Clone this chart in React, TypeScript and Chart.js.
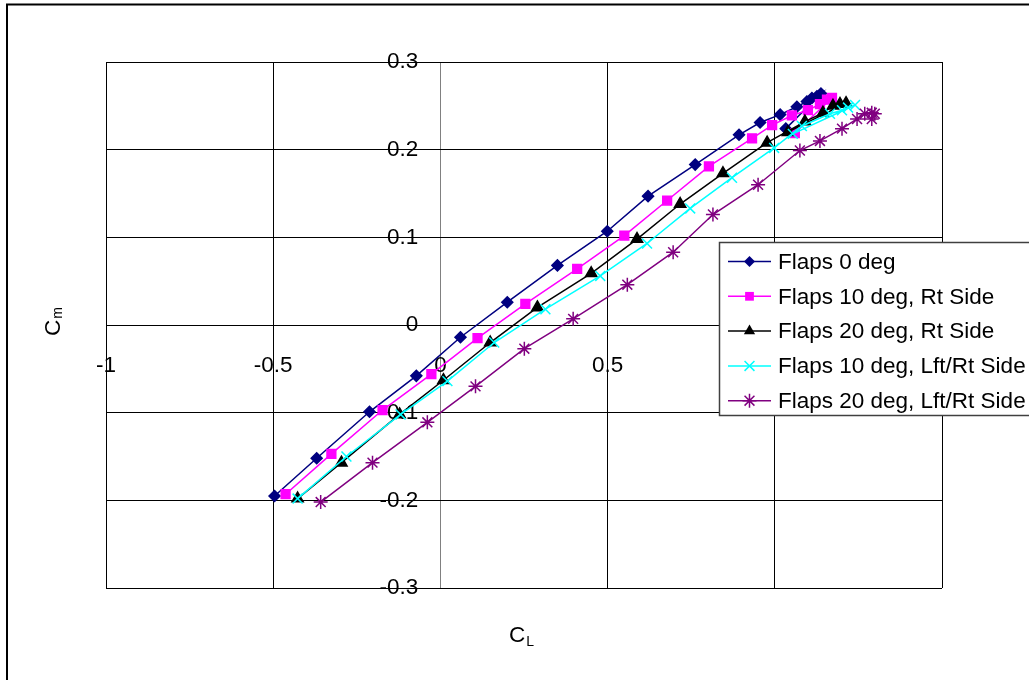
import React, { useEffect, useRef } from 'react';
import { Chart, registerables } from 'chart.js';

Chart.register(...registerables);

const FONT = '"Liberation Sans", Arial, Helvetica, sans-serif';

// ---- data ----
const seriesNames = [
  'Flaps 0 deg',
  'Flaps 10 deg, Rt Side',
  'Flaps 20 deg, Rt Side',
  'Flaps 10 deg, Lft/Rt Side',
  'Flaps 20 deg, Lft/Rt Side',
];

const flaps0CL = [-0.496, -0.370, -0.212, -0.072, 0.060, 0.200, 0.350, 0.499, 0.621, 0.762, 0.893, 0.956, 1.016, 1.066, 1.096, 1.111, 1.126, 1.138, 1.033];
const flaps0Cm = [-0.195, -0.152, -0.099, -0.058, -0.014, 0.026, 0.068, 0.107, 0.147, 0.183, 0.217, 0.231, 0.240, 0.249, 0.255, 0.259, 0.261, 0.264, 0.224];

const flaps10RtCL = [-0.463, -0.326, -0.173, -0.027, 0.111, 0.254, 0.409, 0.550, 0.678, 0.803, 0.932, 0.992, 1.051, 1.099, 1.135, 1.156, 1.171, 1.060];
const flaps10RtCm = [-0.193, -0.147, -0.097, -0.056, -0.015, 0.024, 0.064, 0.102, 0.142, 0.181, 0.213, 0.228, 0.239, 0.245, 0.252, 0.257, 0.259, 0.219];

const flaps20RtCL = [-0.427, -0.296, -0.122, 0.009, 0.149, 0.290, 0.451, 0.588, 0.717, 0.845, 0.977, 1.090, 1.144, 1.174, 1.195, 1.213, 1.039];
const flaps20RtCm = [-0.198, -0.157, -0.102, -0.063, -0.020, 0.020, 0.059, 0.098, 0.138, 0.173, 0.208, 0.232, 0.242, 0.250, 0.252, 0.253, 0.220];

const flaps10LRCL = [-0.427, -0.281, -0.119, 0.021, 0.161, 0.314, 0.478, 0.618, 0.747, 0.872, 0.998, 1.081, 1.165, 1.201, 1.219, 1.240, 1.054];
const flaps10LRCm = [-0.198, -0.150, -0.102, -0.064, -0.020, 0.018, 0.056, 0.093, 0.133, 0.168, 0.202, 0.227, 0.241, 0.245, 0.248, 0.251, 0.218];

const flaps20LRCL = [-0.358, -0.203, -0.039, 0.105, 0.251, 0.397, 0.559, 0.696, 0.815, 0.950, 1.075, 1.135, 1.201, 1.246, 1.269, 1.290, 1.299, 1.290];
const flaps20LRCm = [-0.202, -0.157, -0.111, -0.070, -0.027, 0.007, 0.046, 0.083, 0.126, 0.160, 0.199, 0.210, 0.224, 0.235, 0.241, 0.242, 0.241, 0.235];

const xTickValues = [-1, -0.5, 0, 0.5, 1, 1.5];
const yTickValues = [-0.3, -0.2, -0.1, 0, 0.1, 0.2, 0.3];

const seriesX = [flaps0CL, flaps10RtCL, flaps20RtCL, flaps10LRCL, flaps20LRCL];
const seriesY = [flaps0Cm, flaps10RtCm, flaps20RtCm, flaps10LRCm, flaps20LRCm];

// ---- styles ----
const colors = ['#000080', '#FF00FF', '#000000', '#00FFFF', '#800080'];
const pointStyles = ['rectRot', 'rect', 'triangle', 'crossRot', 'star'];
const pointRadii = [5.5, 6.2, 6.5, 7, 7];
const TEXT_SIZE = 22.5;
// y tick labels sit a little left of the vertical axis (in CL units)
const Y_LABEL_ANCHOR = -0.066;

function drawMarker(ctx: CanvasRenderingContext2D, style: string, x: number, y: number, r: number, color: string) {
  ctx.save();
  ctx.fillStyle = color;
  ctx.strokeStyle = color;
  ctx.lineWidth = 1.5;
  ctx.beginPath();
  const q = Math.SQRT1_2 * r;
  if (style === 'rectRot') {
    ctx.moveTo(x - r, y);
    ctx.lineTo(x, y - r);
    ctx.lineTo(x + r, y);
    ctx.lineTo(x, y + r);
    ctx.closePath();
    ctx.fill();
  } else if (style === 'rect') {
    ctx.rect(x - q, y - q, 2 * q, 2 * q);
    ctx.fill();
  } else if (style === 'triangle') {
    let a = 0;
    ctx.moveTo(x + Math.sin(a) * r, y - Math.cos(a) * r);
    a += (2 * Math.PI) / 3;
    ctx.lineTo(x + Math.sin(a) * r, y - Math.cos(a) * r);
    a += (2 * Math.PI) / 3;
    ctx.lineTo(x + Math.sin(a) * r, y - Math.cos(a) * r);
    ctx.closePath();
    ctx.fill();
  } else if (style === 'crossRot' || style === 'star') {
    ctx.moveTo(x - q, y - q);
    ctx.lineTo(x + q, y + q);
    ctx.moveTo(x - q, y + q);
    ctx.lineTo(x + q, y - q);
    if (style === 'star') {
      ctx.moveTo(x, y - r);
      ctx.lineTo(x, y + r);
      ctx.moveTo(x - r, y);
      ctx.lineTo(x + r, y);
    }
    ctx.stroke();
  }
  ctx.restore();
}

function drawSubTitle(ctx: CanvasRenderingContext2D, main: string, sub: string, x: number, y: number, subDrop: number) {
  ctx.font = `${TEXT_SIZE}px ${FONT}`;
  ctx.textAlign = 'left';
  ctx.textBaseline = 'alphabetic';
  ctx.fillStyle = '#000';
  ctx.fillText(main, x, y);
  const w = ctx.measureText(main).width;
  ctx.font = `14px ${FONT}`;
  ctx.fillText(sub, x + w + 1, y + subDrop);
}

const overlayPlugin = {
  id: 'overlay',
  beforeDraw(chart: any) {
    const ctx: CanvasRenderingContext2D = chart.ctx;
    ctx.save();
    ctx.fillStyle = '#ffffff';
    ctx.fillRect(0, 0, chart.width, chart.height);
    ctx.strokeStyle = '#000000';
    ctx.lineWidth = 2;
    ctx.strokeRect(7, 4.5, 2000, 2000);
    ctx.restore();
  },
  afterDraw(chart: any) {
    const ctx: CanvasRenderingContext2D = chart.ctx;
    ctx.save();
    // axis titles
    drawSubTitle(ctx, 'C', 'L', 509, 642, 4);
    ctx.save();
    ctx.translate(60, 336);
    ctx.rotate(-Math.PI / 2);
    drawSubTitle(ctx, 'C', 'm', 0, 0, 2);
    ctx.restore();

    // legend
    const lx = 719.5;
    const ly = 242.5;
    ctx.fillStyle = '#ffffff';
    ctx.fillRect(lx, ly, 400, 173);
    ctx.strokeStyle = '#404040';
    ctx.lineWidth = 1.5;
    ctx.strokeRect(lx, ly, 400, 173);
    chart.data.datasets.forEach((ds: any, i: number) => {
      const cy = 261.5 + i * 34.8;
      ctx.strokeStyle = ds.borderColor;
      ctx.lineWidth = 1.5;
      ctx.beginPath();
      ctx.moveTo(728, cy);
      ctx.lineTo(771, cy);
      ctx.stroke();
      drawMarker(ctx, ds.pointStyle, 749.5, cy, ds.pointRadius, ds.borderColor);
      ctx.fillStyle = '#000';
      ctx.font = `${TEXT_SIZE}px ${FONT}`;
      ctx.textAlign = 'left';
      ctx.textBaseline = 'middle';
      ctx.fillText(ds.label, 778, cy + 1);
    });
    ctx.restore();
  },
};

const fmt = (v: number) => String(Math.round(v * 10) / 10);

export default function App() {
  const canvasRef = useRef<HTMLCanvasElement | null>(null);

  useEffect(() => {
    if (!canvasRef.current) return;
    const datasets = seriesNames.map((name, i) => ({
      label: name,
      data: seriesX[i].map((x, j) => ({ x, y: seriesY[i][j] })),
      showLine: true,
      borderColor: colors[i],
      backgroundColor: colors[i],
      pointBackgroundColor: colors[i],
      pointBorderColor: colors[i],
      borderWidth: 1.5,
      pointBorderWidth: 1.5,
      pointStyle: pointStyles[i],
      pointRadius: pointRadii[i],
      tension: 0,
      order: seriesNames.length - i,
    }));

    const chart = new Chart(canvasRef.current, {
      type: 'scatter',
      data: { datasets },
      options: {
        animation: false,
        responsive: false,
        devicePixelRatio: 1,
        events: [],
        layout: { padding: { left: 106, top: 62, right: 87, bottom: 92 } },
        plugins: {
          legend: { display: false },
          tooltip: { enabled: false },
          title: { display: false },
        },
        scales: {
          x: {
            type: 'linear',
            min: -1,
            max: 1.5,
            position: { y: 0 } as any,
            afterBuildTicks: (scale: any) => {
              scale.ticks = xTickValues.map((v) => ({ value: v }));
            },
            grid: {
              color: (c: any) => (c.tick && c.tick.value === 0 ? '#808080' : '#000000'),
              lineWidth: 1,
              drawTicks: false,
            },
            border: { display: true, color: '#000000', width: 1 },
            ticks: {
              autoSkip: false,
              maxRotation: 0,
              padding: 27,
              color: '#000',
              font: { family: FONT, size: TEXT_SIZE },
              callback: (v: any) => fmt(Number(v)),
            },
          },
          y: {
            type: 'linear',
            min: -0.3,
            max: 0.3,
            position: { x: Y_LABEL_ANCHOR } as any,
            afterBuildTicks: (scale: any) => {
              scale.ticks = yTickValues.map((v) => ({ value: v }));
            },
            grid: { color: '#000000', lineWidth: 1, drawTicks: false },
            border: { display: false },
            ticks: {
              autoSkip: false,
              padding: 0,
              color: '#000',
              font: { family: FONT, size: TEXT_SIZE },
              callback: (v: any) => fmt(Number(v)),
            },
          },
        },
      },
      plugins: [overlayPlugin],
    } as any);

    return () => chart.destroy();
  }, []);

  return (
    <div style={{ position: 'absolute', left: 0, top: 0, width: 1029, height: 680, background: '#fff' }}>
      <canvas ref={canvasRef} width={1029} height={680} style={{ display: 'block', width: 1029, height: 680 }} />
    </div>
  );
}
